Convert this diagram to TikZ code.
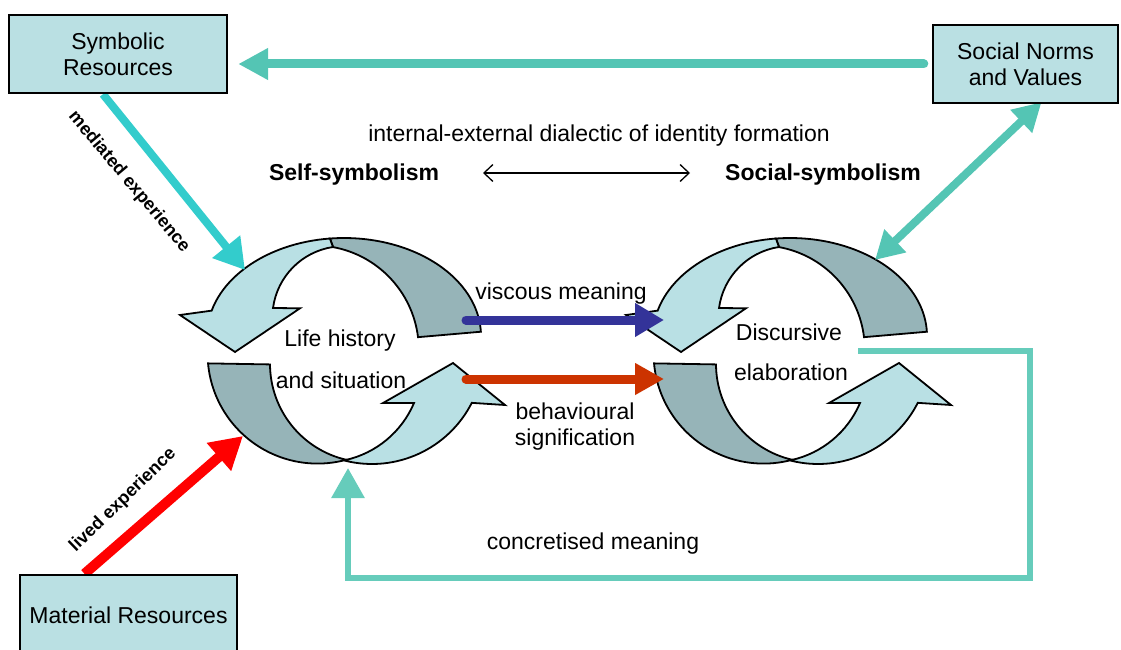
\documentclass[tikz,border=0pt]{standalone}
\usepackage{fontspec}
\setmainfont{Liberation Sans}
\usetikzlibrary{arrows.meta,calc}
\definecolor{boxfill}{RGB}{186,224,227}
\definecolor{bandlight}{RGB}{185,224,228}
\definecolor{banddark}{RGB}{150,180,184}
\definecolor{tealA}{RGB}{84,197,180}
\definecolor{tealB}{RGB}{102,204,187}
\definecolor{cyanA}{RGB}{51,204,204}
\definecolor{blueA}{RGB}{51,51,153}
\definecolor{redA}{RGB}{204,51,0}
\definecolor{redB}{RGB}{255,0,0}
\newcommand{\loopshape}{%
  % upper ribbon: dark back part
  \path[darkband] ($(344,336)+(-95.9:137 and 98)$)
    arc[start angle=-95.9,end angle=-2.5,x radius=137,y radius=98]
    -- ($(314.3,349.9)+(-7:104.5)$)
    arc[start angle=-7,end angle=-79.6,radius=104.5] -- cycle;
  % upper ribbon: light front part with head
  \path[lightband] ($(344,336)+(-95.9:137 and 98)$)
    arc[start angle=-95.9,end angle=-165,x radius=137,y radius=98]
    -- (180,315) -- (235,352) -- (300,308.3)
    -- ($(343.6,317.4)+(-172.4:71.2)$)
    arc[start angle=-172.4,end angle=-98.6,radius=71.2] -- cycle;
  % lower ribbon: dark part
  \path[darkband] ($(317.6,353.6)+(-185.1:110)$)
    arc[start angle=-185.1,end angle=-285.3,radius=110]
    -- ($(368.4,363.9)+(-257.3:98.4)$)
    arc[start angle=-257.3,end angle=-180.3,radius=98.4] -- cycle;
  % lower ribbon: light part with head
  \path[lightband] ($(372,352)+(-256.3:112)$)
    arc[start angle=-256.3,end angle=-333,radius=112]
    -- (505,405) -- (453,363) -- (383,403)
    -- ($(324.2,364.8)+(-337:97.6)$)
    arc[start angle=-337,end angle=-282.7,radius=97.6] -- cycle;
}
\begin{document}
\begin{tikzpicture}[x=1pt,y=-1pt,
  lbl/.style={font=\fontsize{23}{26}\selectfont, inner sep=0pt, text height=16pt, text depth=0pt},
  lblb/.style={lbl, font=\fontsize{23}{26}\selectfont\bfseries},
  rotlbl/.style={inner sep=0pt, font=\fontsize{18}{20}\selectfont\bfseries},
  box/.style={draw=black, line width=2pt, fill=boxfill, align=center, inner sep=0pt,
    font=\fontsize{23}{26}\selectfont},
  lightband/.style={fill=bandlight, draw=black, line width=1.8pt},
  darkband/.style={fill=banddark, draw=black, line width=1.8pt},
  fat/.style={line width=#1},
]
\useasboundingbox (0,0) rectangle (1121,650);

% ---- the two loops
\loopshape
\begin{scope}[xshift=446pt]
  \loopshape
\end{scope}

% ---- box positions (named, drawn after the connectors)
\coordinate (symbC) at (118,54);
\coordinate (socnC) at (1025.5,64);
\coordinate (matC) at (128.5,615);
\path (symbC) node[minimum width=218pt, minimum height=78pt, inner sep=0pt] (symb) {};
\path (socnC) node[minimum width=185pt, minimum height=78pt, inner sep=0pt] (socn) {};
\path (matC) node[minimum width=217pt, minimum height=80pt, inner sep=0pt] (mat) {};

% ---- free ends of connectors
\coordinate (topend) at ($(symb.east |- socn.west)+(11,0)$);
\coordinate (medtip) at (245,270);
\coordinate (livtip) at (243,436);
\coordinate (dbtip) at (875,260);
\coordinate (vmS) at (466,320);
\coordinate (vmE) at (664,320);
\coordinate (bsS) at (466,379);
\coordinate (bsE) at (664,379);
\coordinate (fbS) at (858,351);
\coordinate (fbC) at (1030,578);
\coordinate (fbE) at (348,468);
\coordinate (dL) at (483,173);
\coordinate (dR) at (690,173);

% ---- connectors
\draw[tealA, fat=9pt, line cap=round, -{Triangle[length=30pt,width=30pt]}]
  ([xshift=-9pt]socn.west) -- (topend);
\draw[cyanA, fat=8pt, -{Triangle[length=30pt,width=34pt]}]
  ([xshift=-15pt,yshift=-1pt]symb.south) -- (medtip);
\draw[redB, fat=10pt, -{Triangle[length=32pt,width=35pt]}]
  ([xshift=-44pt,yshift=1pt]mat.north) -- (livtip);
\draw[tealA, fat=8pt, {Triangle[length=28pt,width=30pt]}-{Triangle[length=28pt,width=30pt]}]
  (dbtip) -- ([xshift=16pt,yshift=1pt]socn.south);
\draw[blueA, fat=9pt, line cap=round, -{Triangle[length=29pt,width=32pt]}] (vmS) -- (vmE);
\draw[redA, fat=9pt, line cap=round, -{Triangle[length=29pt,width=30pt]}] (bsS) -- (bsE);
\draw[tealB, fat=6pt, -{Triangle[length=30pt,width=32pt]}] (fbS) -| (fbC) -| (fbE);
\draw[black, fat=1.3pt, {Straight Barb[length=9pt,width=17pt]}-{Straight Barb[length=9pt,width=17pt]}] (dL) -- (dR);

% ---- boxes on top of connector ends
\node[box, minimum width=218pt, minimum height=78pt] (symbBox) at (symbC) {Symbolic\\Resources};
\node[box, minimum width=185pt, minimum height=78pt] (socnBox) at (socnC) {Social Norms\\and Values};
\node[box, minimum width=217pt, minimum height=80pt, text depth=0pt] (matBox) at (matC) {Material Resources};

% ---- labels
\node[lbl] (title) at (599,133) {internal-external dialectic of identity formation};
\node[lblb] (self) at (354,172) {Self-symbolism};
\node[lblb] (social) at (823,172) {Social-symbolism};
\node[lbl] (visc) at (561,291) {viscous meaning};
\node[lbl] (beh1) at (575,411) {behavioural};
\node[lbl] (beh2) at (575,437) {signification};
\node[lbl] (life1) at (340,338) {Life history};
\node[lbl] (life2) at (341,380) {and situation};
\node[lbl] (disc1) at (789,332) {Discursive};
\node[lbl] (disc2) at (791,372) {elaboration};
\node[lbl] (conc) at (593,541) {concretised meaning};
\node[rotlbl, rotate=-50] (medl) at (129,182) {mediated experience};
\node[rotlbl, rotate=44] (livl) at (123,500) {lived experience};
\end{tikzpicture}
\end{document}
